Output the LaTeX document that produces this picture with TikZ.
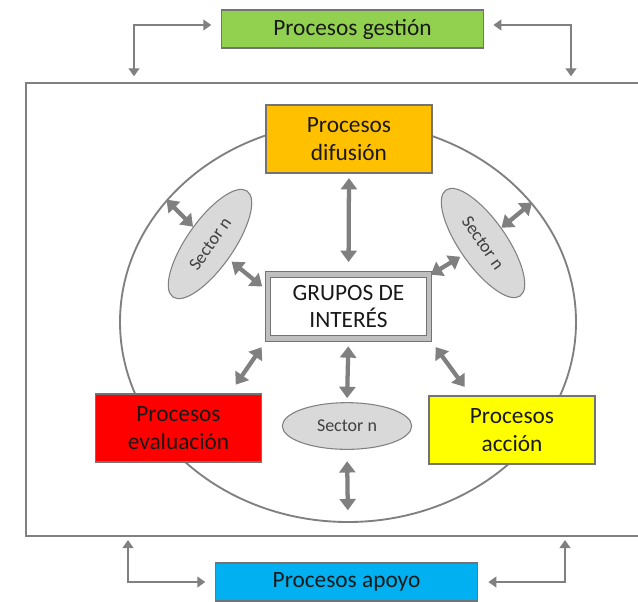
\documentclass[tikz,border=0pt]{standalone}
\usepackage{fontspec}
\setmainfont{Carlito}
\usepackage{tikz}
\usetikzlibrary{positioning, arrows.meta, shapes.geometric}

\definecolor{verde}{HTML}{92D050}
\definecolor{naranja}{HTML}{FFC000}
\definecolor{rojo}{HTML}{FF0000}
\definecolor{amarillo}{HTML}{FFFF00}
\definecolor{azul}{HTML}{00B0F0}

\begin{document}
\begin{tikzpicture}[
    x=0.75pt, y=-0.75pt,
    proc/.style={rectangle, draw=black!55, line width=0.8pt, text=black!90, align=center, inner sep=0pt, font=\fontsize{17.5}{20.5}\selectfont},
    sector/.style={ellipse, draw=black!50, line width=0.8pt, fill=black!15, text=black!75, inner sep=0pt, minimum width=97pt, minimum height=35pt, font=\fontsize{13.5}{16}\selectfont},
    flecha/.style={{Triangle[width=12pt, length=8.5pt]}-{Triangle[width=12pt, length=8.5pt]}, draw=black!50, line width=3.2pt},
    enlace/.style={{Triangle[width=8pt, length=6pt]}-{Triangle[width=8pt, length=6pt]}, draw=black!50, line width=2.2pt}
]

\useasboundingbox (0,0) rectangle (638,601);

% Outer frame
\draw[black!50, line width=1.7pt] (638,83) -- (26,83) -- (26,536) -- (638,536);

% Ring of the interest groups
\node[ellipse, draw=black!50, line width=1.4pt, minimum width=342pt, minimum height=300pt, inner sep=0pt] (ring) at (348,322) {};

% Process boxes
\node[proc, fill=verde, minimum width=197pt, minimum height=28.5pt] (gestion) at (352.5,29) {Procesos gestión};
\node[proc, fill=naranja, minimum width=124.5pt, minimum height=51pt] (difusion) at (349,139) {Procesos\\difusión};
\node[proc, fill=white, double=black!25, double distance=3.4pt, line width=0.7pt, minimum width=121pt, minimum height=48pt] (grupos) at (348.5,306.5) {GRUPOS DE\\INTERÉS};
\node[proc, fill=rojo, minimum width=124.5pt, minimum height=51pt] (evaluacion) at (178.5,428) {Procesos\\evaluación};
\node[proc, fill=amarillo, minimum width=124.5pt, minimum height=51pt] (accion) at (512,430) {Procesos\\acción};
\node[proc, fill=azul, minimum width=197pt, minimum height=28.5pt] (apoyo) at (346.5,582) {Procesos apoyo};

% Sectors
\node[sector, rotate=55] (secizq) at (210,244) {Sector n};
\node[sector, rotate=-55] (secder) at (483,243) {Sector n};
\node[sector] (secinf) at (347,426) {Sector n};

% Arrows inside the ring
\draw[flecha, shorten <=3.4pt, shorten >=9pt] (difusion.south) -- (grupos.north);
\draw[flecha, shorten <=5.5pt, shorten >=3pt] (grupos.south) -- (secinf.north);
\draw[flecha, shorten <=8.5pt, shorten >=9.5pt] (secinf.south) -- (ring.south);
\draw[flecha, shorten <=3pt, shorten >=5pt] (secizq) -- (grupos.169);
\draw[flecha] (secizq) -- (ring.146);
\draw[flecha, shorten <=2pt, shorten >=1pt] (secder) -- (grupos.21);
\draw[flecha] (secder) -- (ring.33);
\draw[flecha, shorten <=7.5pt, shorten >=8pt] (grupos.south west) -- (evaluacion.34);
\draw[flecha, shorten <=7.5pt, shorten >=8pt] (grupos.south east) -- (accion.140);

% Elbow links to the frame
\coordinate (gizq) at (134,83);
\coordinate (gder) at (571,83);
\coordinate (aizq) at (128,536);
\coordinate (ader) at (565,536);

\draw[enlace, shorten <=7pt, shorten >=5pt] ([yshift=3pt]gestion.west) -| (gizq);
\draw[enlace, shorten <=6.75pt, shorten >=5pt] ([yshift=3pt]gestion.east) -| (gder);
\draw[enlace, shorten <=7pt, shorten >=3pt] (apoyo.west) -| (aizq);
\draw[enlace, shorten <=7.5pt, shorten >=3pt] (apoyo.east) -| (ader);

\end{tikzpicture}
\end{document}
